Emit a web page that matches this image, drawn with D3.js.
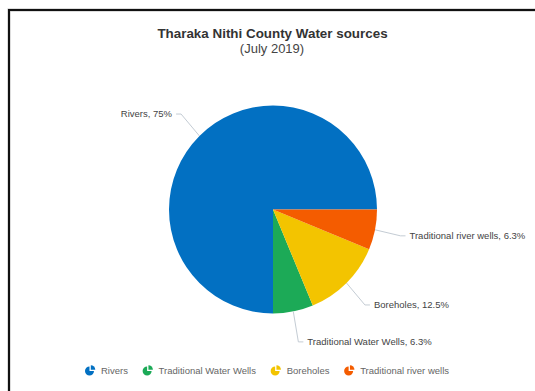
<!DOCTYPE html>
<html><head><meta charset="utf-8">
<script src="https://cdn.jsdelivr.net/npm/d3@7"></script>
<style>body{margin:0;background:#fff;font-family:"Liberation Sans",Arial,sans-serif;}</style>
</head><body>
<svg id="c" width="535" height="391"></svg>
<script>
const categories = ["Rivers", "Traditional Water Wells", "Boreholes", "Traditional river wells"];
const values = [12, 1, 2, 1];
const percentLabels = ["75%", "6.3%", "12.5%", "6.3%"];
const colors = ["#0270c2", "#1caa57", "#f3c400", "#f45c00"];
const title = "Tharaka Nithi County Water sources";
const subtitle = "(July 2019)";

const svg = d3.select("#c");
// frame
svg.append("path").attr("d","M9,391 V10 H535").attr("fill","none").attr("stroke","#bbb").attr("stroke-width",3);
svg.append("path").attr("d","M9,391 V10 H535").attr("fill","none").attr("stroke","#111").attr("stroke-width",2);

svg.append("text").attr("x",272.5).attr("y",38).attr("text-anchor","middle")
  .attr("font-size",13.4).attr("font-weight","bold").attr("fill","#333").text(title);
svg.append("text").attr("x",272).attr("y",53).attr("text-anchor","middle")
  .attr("font-size",13).attr("fill","#444").text(subtitle);

const cx = 273, cy = 209.5, r = 104;
const data = categories.map((c,i)=>({c, v:values[i], p:percentLabels[i], col:colors[i]}));
const pie = d3.pie().value(d=>d.v).sort(null).startAngle(Math.PI/2).endAngle(Math.PI/2 - 2*Math.PI);
const arcs = pie(data);
const arc = d3.arc().innerRadius(0).outerRadius(r);
const edge = d3.arc().innerRadius(r).outerRadius(r);
const g = svg.append("g").attr("transform",`translate(${cx},${cy})`);
g.selectAll("path.s").data(arcs).enter().append("path").attr("class","s")
  .attr("d",arc).attr("fill",d=>d.data.col);

const rx = 130, ry = 135;
arcs.forEach(a=>{
  const mid = (a.startAngle + a.endAngle)/2;
  const p0 = edge.centroid(a);
  const p1 = [rx*Math.sin(mid), -ry*Math.cos(mid)];
  const right = Math.sin(mid) > 0;
  const p2 = [p1[0] + (right?5:-5), p1[1]];
  g.append("polyline").attr("points",[p0,p1,p2].map(p=>p.join(",")).join(" "))
    .attr("fill","none").attr("stroke","#c4ccd4").attr("stroke-width",1);
  g.append("text").attr("x",p2[0] + (right?4:-4)).attr("y",p2[1]).attr("dy","0.35em")
    .attr("text-anchor", right?"start":"end").attr("font-size",9.5).attr("fill","#444")
    .text(a.data.c + ", " + a.data.p);
});

// legend
const lg = svg.append("g");
let x = 0;
const gap = 14.7;
const iconArc = d3.arc().innerRadius(0).outerRadius(4.5);
data.forEach((d,i)=>{
  const it = lg.append("g").attr("transform",`translate(${x},0)`);
  it.append("path").attr("d",iconArc({startAngle:Math.PI/2,endAngle:2*Math.PI})).attr("fill",d.col).attr("transform","translate(4.5,0)");
  it.append("path").attr("d",iconArc({startAngle:0,endAngle:Math.PI/2})).attr("fill",d.col).attr("transform","translate(5.8,-1.3)");
  const t = it.append("text").attr("x",16).attr("y",0).attr("dy","0.35em").attr("font-size",9.5).attr("fill","#666").text(d.c);
  x += 16 + t.node().getComputedTextLength() + gap;
});
const total = x - gap;
lg.attr("transform",`translate(${267 - total/2},371)`);
</script>
</body></html>
